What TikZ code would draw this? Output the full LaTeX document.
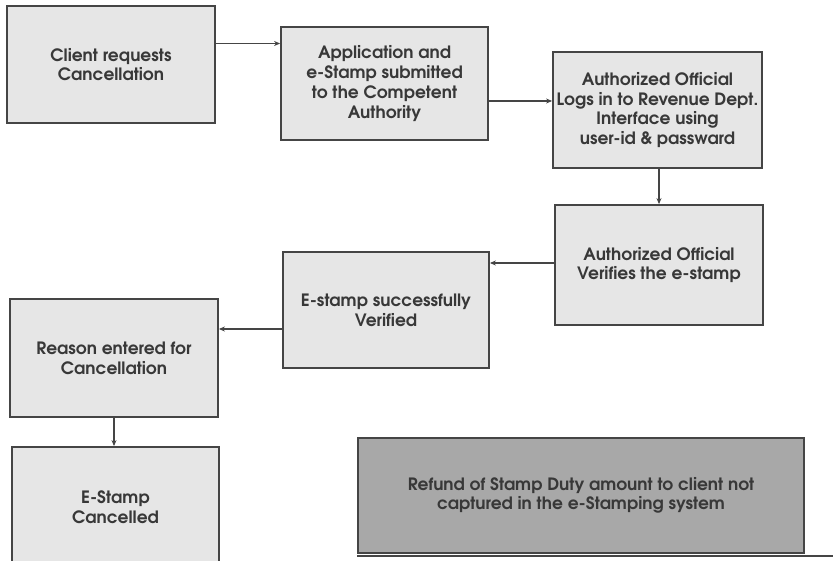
\documentclass[tikz,border=0pt]{standalone}
\usepackage{fontspec}
\setmainfont{TeX Gyre Adventor}
\usetikzlibrary{arrows.meta}
\definecolor{boxfill}{HTML}{E6E6E6}
\definecolor{boxline}{HTML}{454545}
\definecolor{notefill}{HTML}{A8A8A8}
\definecolor{ink}{HTML}{383838}
\tikzset{
  stepbox/.style={draw=boxline, line width=1.8pt, fill=boxfill, align=center,
    inner sep=1pt, text=ink, font=\fontsize{17}{19.8}\selectfont\bfseries},
  notebox/.style={draw=boxline, line width=1.8pt, fill=notefill, align=center,
    inner sep=1pt, text=ink, font=\fontsize{17}{19}\selectfont\bfseries},
  flow/.style={draw=boxline, line width=1.8pt, -{Stealth[length=6pt,width=5pt]}},
}
\begin{document}
\begin{tikzpicture}[x=1pt,y=-1pt]
\clip (0,0) rectangle (833,561);
\fill[white] (0,0) rectangle (833,561);

\node[stepbox, minimum width=208pt, minimum height=117pt] (b1) at (111,64.5)
  {Client requests\\Cancellation};
\node[stepbox, minimum width=207pt, minimum height=113pt] (b2) at (384.5,83.5)
  {Application and\\e-Stamp submitted\\to the Competent\\Authority};
\node[stepbox, minimum width=209pt, minimum height=116pt] (b3) at (657.5,110)
  {Authorized Official\\Logs in to Revenue Dept.\\Interface using\\user-id \& passward};
\node[stepbox, minimum width=208pt, minimum height=120pt] (b4) at (659,265)
  {Authorized Official\\Verifies the e-stamp};
\node[stepbox, minimum width=206pt, minimum height=116pt] (b5) at (386,310)
  {E-stamp successfully\\Verified};
\node[stepbox, minimum width=208pt, minimum height=118pt] (b6) at (114,358)
  {Reason entered for\\Cancellation};
\node[stepbox, minimum width=207pt, minimum height=120pt] (b7) at (115.5,507)
  {E-Stamp\\Cancelled};
\node[notebox, minimum width=446pt, minimum height=115pt] (b8) at (581,495.5)
  {Refund of Stamp Duty amount to client not\\captured in the e-Stamping system};

\draw[flow] ([yshift=21pt]b1.east) -- ([yshift=21pt]b1.east -| b2.west);
\draw[flow] ([yshift=-17.5pt]b2.east) -- ([yshift=-17.5pt]b2.east -| b3.west);
\draw[flow] (b3.south -| b4.north) -- (b4.north);
\draw[flow] ([yshift=2pt]b4.west) -- ([yshift=2pt]b4.west -| b5.east);
\draw[flow] ([yshift=-19pt]b5.west) -- ([yshift=-19pt]b5.west -| b6.east);
\draw[flow] (b6.south) -- (b6.south |- b7.north);

% rule running from the note box to the right margin
\coordinate (rule end) at (833,0);
\draw[boxline, line width=1.8pt] ([yshift=-2pt]b8.south west) -- ([yshift=-2pt]b8.south west -| rule end);
\end{tikzpicture}
\end{document}
